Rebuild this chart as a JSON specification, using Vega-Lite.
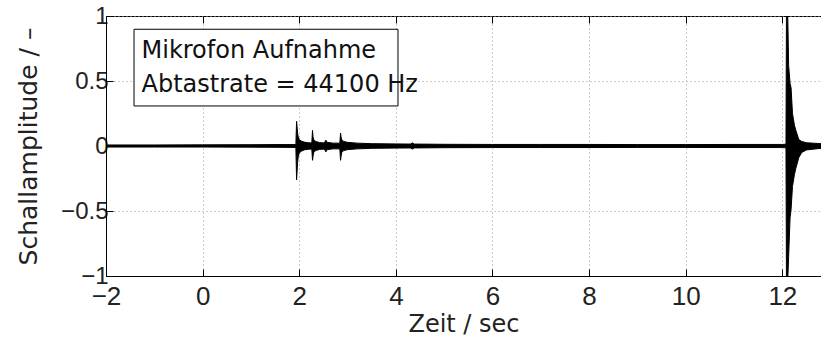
{
  "$schema": "https://vega.github.io/schema/vega-lite/v6.json",
  "width": 715,
  "height": 260,
  "autosize": {"type": "none"},
  "padding": {"left": 106, "top": 16, "right": 0, "bottom": 64},
  "background": "white",
  "config": {
    "view": {"stroke": "#000", "strokeWidth": 1},
    "axis": {
      "domainColor": "#000",
      "tickColor": "#000",
      "tickSize": -7,
      "gridDash": [1, 3],
      "gridColor": "#999",
      "labelFont": "Liberation Sans",
      "labelFontSize": 26,
      "labelColor": "#222",
      "titleFont": "DejaVu Sans",
      "titleFontSize": 24,
      "titleFontWeight": "normal",
      "titleColor": "#222"
    }
  },
  "layer": [
    {
      "data": {"values": [
        {"t": -2.0, "lo": -0.008, "hi": 0.008},
        {"t": -1.0, "lo": -0.008, "hi": 0.008},
        {"t": 0.0, "lo": -0.008, "hi": 0.009},
        {"t": 1.0, "lo": -0.009, "hi": 0.01},
        {"t": 1.5, "lo": -0.01, "hi": 0.011},
        {"t": 1.93, "lo": -0.011, "hi": 0.011},
        {"t": 1.945, "lo": -0.26, "hi": 0.19},
        {"t": 1.955, "lo": -0.2, "hi": 0.15},
        {"t": 1.965, "lo": -0.13, "hi": 0.1},
        {"t": 1.98, "lo": -0.08, "hi": 0.07},
        {"t": 2.0, "lo": -0.055, "hi": 0.05},
        {"t": 2.04, "lo": -0.04, "hi": 0.038},
        {"t": 2.1, "lo": -0.03, "hi": 0.03},
        {"t": 2.18, "lo": -0.025, "hi": 0.025},
        {"t": 2.26, "lo": -0.024, "hi": 0.024},
        {"t": 2.275, "lo": -0.11, "hi": 0.12},
        {"t": 2.285, "lo": -0.08, "hi": 0.07},
        {"t": 2.3, "lo": -0.05, "hi": 0.05},
        {"t": 2.34, "lo": -0.035, "hi": 0.035},
        {"t": 2.42, "lo": -0.026, "hi": 0.026},
        {"t": 2.52, "lo": -0.024, "hi": 0.024},
        {"t": 2.55, "lo": -0.045, "hi": 0.045},
        {"t": 2.58, "lo": -0.028, "hi": 0.028},
        {"t": 2.7, "lo": -0.022, "hi": 0.022},
        {"t": 2.84, "lo": -0.022, "hi": 0.022},
        {"t": 2.855, "lo": -0.11, "hi": 0.1},
        {"t": 2.865, "lo": -0.08, "hi": 0.07},
        {"t": 2.88, "lo": -0.05, "hi": 0.05},
        {"t": 2.92, "lo": -0.035, "hi": 0.035},
        {"t": 3.0, "lo": -0.028, "hi": 0.028},
        {"t": 3.2, "lo": -0.022, "hi": 0.022},
        {"t": 3.5, "lo": -0.018, "hi": 0.018},
        {"t": 4.0, "lo": -0.016, "hi": 0.016},
        {"t": 4.3, "lo": -0.015, "hi": 0.015},
        {"t": 4.34, "lo": -0.024, "hi": 0.024},
        {"t": 4.38, "lo": -0.015, "hi": 0.015},
        {"t": 5.0, "lo": -0.013, "hi": 0.013},
        {"t": 6.0, "lo": -0.012, "hi": 0.012},
        {"t": 7.0, "lo": -0.012, "hi": 0.012},
        {"t": 8.0, "lo": -0.012, "hi": 0.012},
        {"t": 9.0, "lo": -0.011, "hi": 0.011},
        {"t": 10.0, "lo": -0.011, "hi": 0.011},
        {"t": 11.0, "lo": -0.012, "hi": 0.012},
        {"t": 12.0, "lo": -0.012, "hi": 0.012},
        {"t": 12.075, "lo": -0.014, "hi": 0.014},
        {"t": 12.085, "lo": -1.05, "hi": 1.05},
        {"t": 12.11, "lo": -1.05, "hi": 1.05},
        {"t": 12.13, "lo": -0.85, "hi": 0.62},
        {"t": 12.16, "lo": -0.55, "hi": 0.48},
        {"t": 12.18, "lo": -0.49, "hi": 0.45},
        {"t": 12.21, "lo": -0.31, "hi": 0.25},
        {"t": 12.25, "lo": -0.22, "hi": 0.16},
        {"t": 12.28, "lo": -0.17, "hi": 0.12},
        {"t": 12.34, "lo": -0.09, "hi": 0.05},
        {"t": 12.4, "lo": -0.05, "hi": 0.035},
        {"t": 12.5, "lo": -0.03, "hi": 0.025},
        {"t": 12.8, "lo": -0.018, "hi": 0.018}
      ]},
      "mark": {"type": "area", "color": "#000", "stroke": "#000", "strokeWidth": 1, "clip": true},
      "encoding": {
        "x": {
          "field": "t", "type": "quantitative",
          "scale": {"domain": [-2, 12.8], "nice": false, "zero": false},
          "axis": {"values": [-2, 0, 2, 4, 6, 8, 10, 12], "format": "~g", "title": "Zeit / sec", "grid": true, "labelFlush": false, "labelOverlap": false, "labelPadding": 14, "titlePadding": 3, "orient": "bottom"}
        },
        "y": {
          "field": "lo", "type": "quantitative",
          "scale": {"domain": [-1, 1], "nice": false, "zero": false},
          "axis": {"values": [-1, -0.5, 0, 0.5, 1], "format": "~g", "title": "Schallamplitude / –", "titleFontSize": 25, "labelFontSize": 24, "grid": true, "labelFlush": false, "labelOverlap": false, "labelPadding": 5, "titlePadding": 19}
        },
        "y2": {"field": "hi"}
      }
    },
    {
      "data": {"values": [{"box": "legend"}]},
      "mark": {"type": "rect", "fill": "white", "stroke": "#000", "strokeWidth": 1},
      "encoding": {
        "x": {"datum": -1.42, "type": "quantitative", "axis": null},
        "x2": {"datum": 4.044},
        "y": {"datum": 0.898, "type": "quantitative"},
        "y2": {"datum": 0.308}
      }
    },
    {
      "data": {"values": [
        {"line": "Mikrofon Aufnahme", "a": 0.675},
        {"line": "Abtastrate = 44100 Hz", "a": 0.418}
      ]},
      "mark": {"type": "text", "align": "left", "baseline": "alphabetic", "font": "DejaVu Sans", "fontSize": 24, "color": "#111"},
      "encoding": {
        "x": {"datum": -1.265, "type": "quantitative", "axis": null},
        "y": {"field": "a", "type": "quantitative"},
        "text": {"field": "line"}
      }
    },
    {
      "data": {"values": [{"t": -2}, {"t": 12.8}]},
      "mark": {"type": "point", "opacity": 0},
      "encoding": {
        "x": {
          "field": "t", "type": "quantitative",
          "axis": {"orient": "top", "values": [-2, 0, 2, 4, 6, 8, 10, 12], "labels": false, "domain": false, "grid": false, "title": null}
        }
      }
    }
  ],
  "resolve": {"axis": {"x": "independent"}}
}
